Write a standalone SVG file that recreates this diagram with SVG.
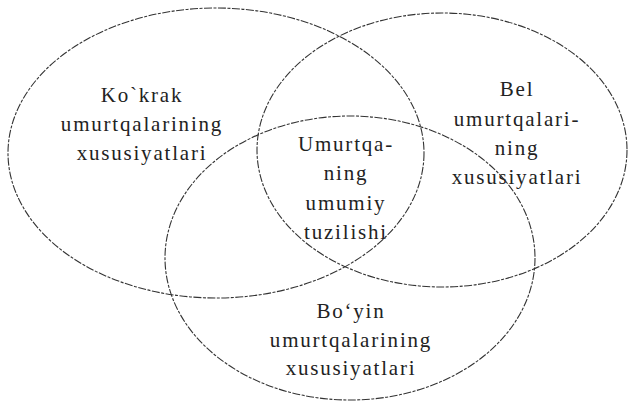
<svg xmlns="http://www.w3.org/2000/svg" width="629" height="401" viewBox="0 0 629 401">
<style>
.c{fill:none;stroke:#333;stroke-width:1.1;stroke-dasharray:8 1.5 3 1.5}
.t{font-family:'Liberation Serif','DejaVu Serif',serif;font-size:21px;letter-spacing:1.8px;fill:#222;text-anchor:middle}
</style>
<rect width="629" height="401" fill="#fff"/>
<g id="kokrak">
<ellipse class="c" cx="216" cy="153" rx="208" ry="145"/>
<text class="t" x="142" y="102">Ko`krak</text>
<text class="t" x="142" y="131">umurtqalarining</text>
<text class="t" x="142" y="160">xususiyatlari</text>
</g>
<g id="bel">
<ellipse class="c" cx="442" cy="150" rx="185" ry="137"/>
<text class="t" x="517" y="96">Bel</text>
<text class="t" x="517" y="126">umurtqalari-</text>
<text class="t" x="517" y="155">ning</text>
<text class="t" x="517" y="184">xususiyatlari</text>
</g>
<g id="boyin">
<ellipse class="c" cx="350" cy="258" rx="185" ry="142"/>
<text class="t" x="351" y="318">Bo‘yin</text>
<text class="t" x="351" y="347">umurtqalarining</text>
<text class="t" x="351" y="375">xususiyatlari</text>
</g>
<g id="umumiy">
<text class="t" x="346" y="151">Umurtqa-</text>
<text class="t" x="346" y="180">ning</text>
<text class="t" x="346" y="210">umumiy</text>
<text class="t" x="346" y="239">tuzilishi</text>
</g>
</svg>
